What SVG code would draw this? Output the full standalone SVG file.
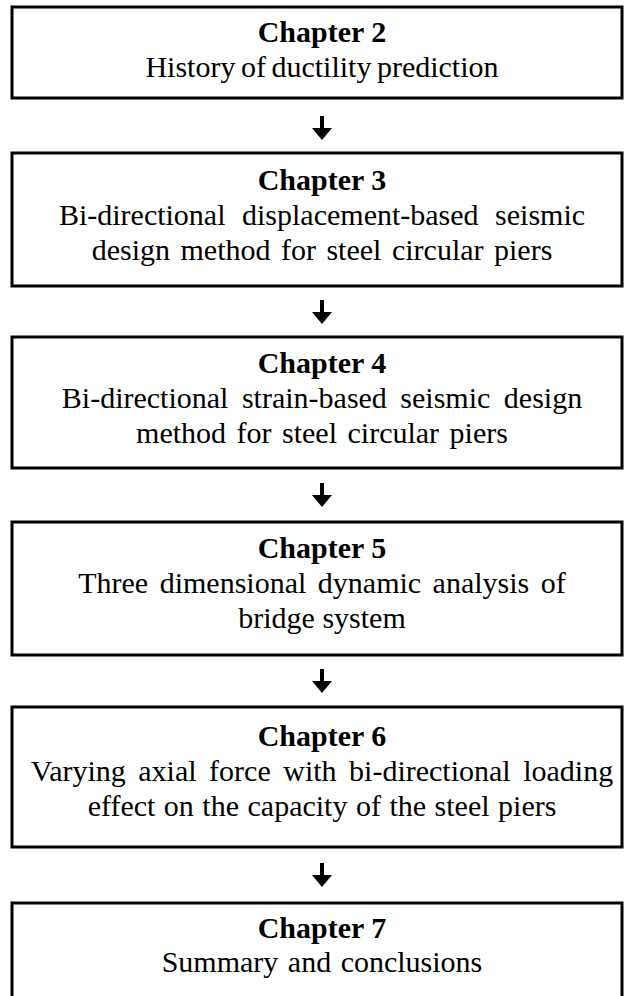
<svg xmlns="http://www.w3.org/2000/svg" width="624" height="996" viewBox="0 0 624 996">
<defs>
<style>
.box{fill:#fff;stroke:#000;stroke-width:3}
.t{font-family:"Liberation Serif","Times New Roman",serif;font-size:30px;fill:#000;text-anchor:middle}
.h{font-weight:bold}
.arr{fill:#000;stroke:none}
</style>
<path id="arrow" class="arr" d="M-2,0 H2 V12 H10 L0,24 L-10,12 H-2 Z"/>
</defs>
<rect width="624" height="996" fill="#fff"/>
<g id="connectors">
<use href="#arrow" x="322" y="116"/>
<use href="#arrow" x="322" y="300"/>
<use href="#arrow" x="322" y="483"/>
<use href="#arrow" x="322" y="669"/>
<use href="#arrow" x="322" y="863"/>
</g>
<g id="ch2">
<rect class="box" x="12" y="7" width="610" height="91"/>
<text class="t h" x="322" y="42">Chapter 2</text>
<text class="t" x="322" y="77" word-spacing="-2">History of ductility prediction</text>
</g>
<g id="ch3">
<rect class="box" x="12" y="153" width="610" height="133"/>
<text class="t h" x="322" y="190">Chapter 3</text>
<text class="t" x="322" y="225" word-spacing="9">Bi-directional displacement-based seismic</text>
<text class="t" x="322" y="260" word-spacing="3">design method for steel circular piers</text>
</g>
<g id="ch4">
<rect class="box" x="12" y="337" width="610" height="131"/>
<text class="t h" x="322" y="373">Chapter 4</text>
<text class="t" x="322" y="408" word-spacing="6">Bi-directional strain-based seismic design</text>
<text class="t" x="322" y="443" word-spacing="3">method for steel circular piers</text>
</g>
<g id="ch5">
<rect class="box" x="12" y="522" width="610" height="133"/>
<text class="t h" x="322" y="558">Chapter 5</text>
<text class="t" x="322" y="593" word-spacing="4">Three dimensional dynamic analysis of</text>
<text class="t" x="322" y="628">bridge system</text>
</g>
<g id="ch6">
<rect class="box" x="12" y="707" width="610" height="140"/>
<text class="t h" x="322" y="746">Chapter 6</text>
<text class="t" x="322" y="781" word-spacing="5">Varying axial force with bi-directional loading</text>
<text class="t" x="322" y="816" word-spacing="1">effect on the capacity of the steel piers</text>
</g>
<g id="ch7">
<rect class="box" x="12" y="903" width="610" height="110"/>
<text class="t h" x="322" y="938">Chapter 7</text>
<text class="t" x="322" y="972" word-spacing="2">Summary and conclusions</text>
</g>
</svg>
